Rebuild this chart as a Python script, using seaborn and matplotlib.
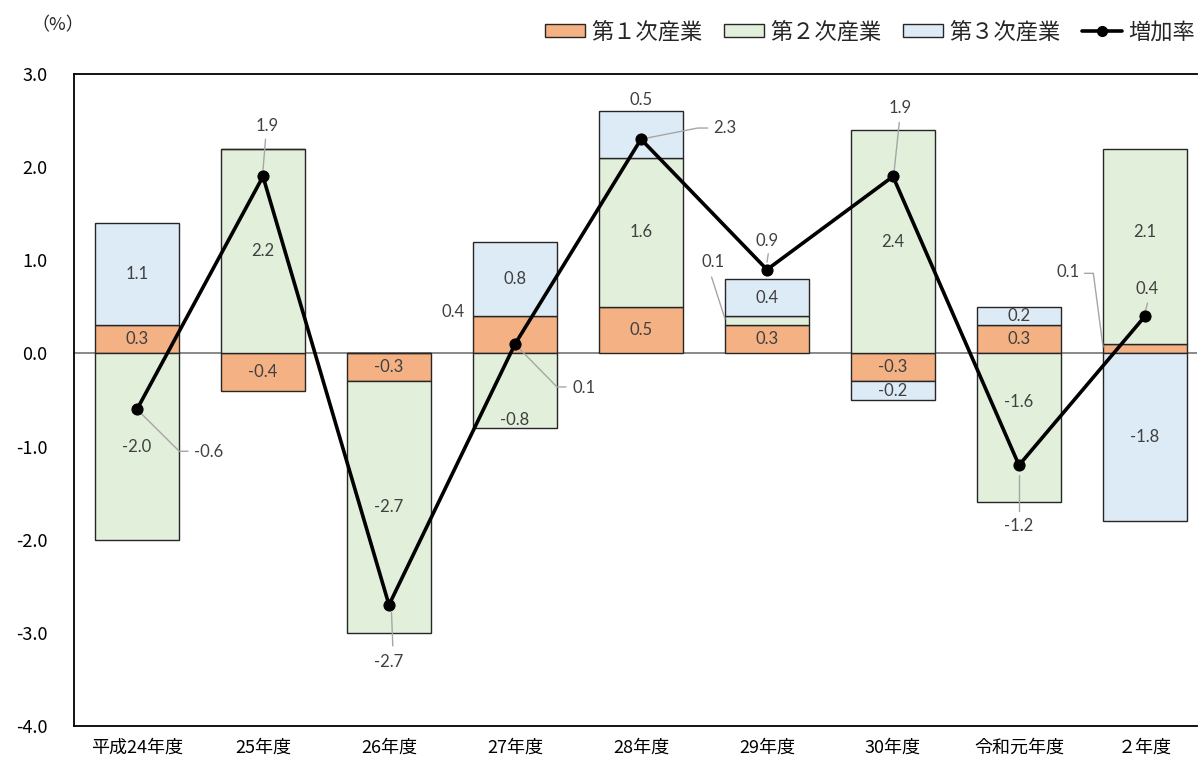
import numpy as np
import matplotlib
matplotlib.use("Agg")
import matplotlib.pyplot as plt
import seaborn as sns
from matplotlib.patches import Patch
from matplotlib.lines import Line2D

years = ["平成24年度", "25年度", "26年度", "27年度", "28年度", "29年度", "30年度", "令和元年度", "２年度"]
primary = [0.3, -0.4, -0.3, 0.4, 0.5, 0.3, -0.3, 0.3, 0.1]
secondary = [-2.0, 2.2, -2.7, -0.8, 1.6, 0.1, 2.4, -1.6, 2.1]
tertiary = [1.1, 0.0, 0.0, 0.8, 0.5, 0.4, -0.2, 0.2, -1.8]
growth = [-0.6, 1.9, -2.7, 0.1, 2.3, 0.9, 1.9, -1.2, 0.4]
series_names = ["第１次産業", "第２次産業", "第３次産業"]
line_name = "増加率"
y_ticks = [-4.0, -3.0, -2.0, -1.0, 0.0, 1.0, 2.0, 3.0]

sns.set_theme(style="white")
plt.rcParams["font.family"] = ["Noto Sans CJK JP", "DejaVu Sans"]

colors = ["#F4B183", "#E2EFDA", "#DDEBF7"]
edge = "#262626"
label_color = "#404040"
leader_color = "#A6A6A6"
label_font = ["Lato", "DejaVu Sans"]

fig = plt.figure(figsize=(11.98, 7.6), dpi=100)
ax = fig.add_axes([74 / 1198, 34 / 760, 1123 / 1198, 652 / 760])

ax.axhline(0, color="#808080", lw=1.3, zorder=0.5)

# stacked bars: positive and negative parts stack separately
vals = np.array([primary, secondary, tertiary])
pos_base = np.zeros(len(years))
neg_base = np.zeros(len(years))
centers = np.zeros_like(vals)
for i, v in enumerate(vals):
    bottom = np.where(v >= 0, pos_base, neg_base)
    sns.barplot(x=years, y=v, order=years, bottom=bottom, color=colors[i],
                edgecolor=edge, linewidth=1.0, width=0.667, saturation=1,
                errorbar=None, ax=ax, zorder=2)
    centers[i] = bottom + v / 2
    pos_base = np.where(v >= 0, pos_base + v, pos_base)
    neg_base = np.where(v < 0, neg_base + v, neg_base)

xs = np.arange(len(years))
sns.lineplot(x=xs, y=growth, color="black", lw=2.6, marker="o", markersize=8,
             markeredgecolor="black", ax=ax, zorder=4)

# segment labels (some moved off-centre as in the original)
moved = {(0, 3): (2.51, 0.44), (1, 3): (3.0, -0.72), (1, 7): (7.0, -0.52),
         (1, 8): (8.0, 1.30), (1, 5): (4.57, 0.98), (0, 8): (7.39, 0.87),
         (2, 4): (4.0, 2.72)}
seg_leaders = {(1, 5): [(4.56, 0.82), (4.667, 0.37)],
               (0, 8): [(7.52, 0.86), (7.59, 0.86), (7.667, 0.07)]}
for i in range(3):
    for j in range(len(years)):
        v = vals[i][j]
        if v == 0:
            continue
        x, y = moved.get((i, j), (j, centers[i][j]))
        ax.text(x, y, f"{v:.1f}", ha="center", va="center", fontsize=12,
                color=label_color, family=label_font, zorder=5)
        if (i, j) in seg_leaders:
            px, py = zip(*seg_leaders[(i, j)])
            ax.plot(px, py, color=leader_color, lw=1, zorder=3)

# growth labels: (text offset, leader offsets) relative to each point
g_text = [(0.45, -0.46, "left"), (0.03, 0.54, "center"), (0.0, -0.61, "center"),
          (0.46, -0.47, "left"), (0.57, 0.12, "left"), (0.0, 0.31, "center"),
          (0.06, 0.73, "center"), (0.0, -0.65, "center"), (0.02, 0.29, "center")]
g_lead = [[(0, 0), (0.335, -0.45), (0.405, -0.45)],
          [(0.02, 0.40), (0.0, 0.07)],
          [(0.02, -0.08), (0.03, -0.44)],
          [(0, 0), (0.333, -0.46), (0.405, -0.46)],
          [(0, 0), (0.45, 0.12), (0.53, 0.12)],
          [(0.01, 0.17), (0.0, 0.08)],
          [(0.05, 0.58), (0.01, 0.07)],
          [(0.0, -0.10), (0.0, -0.49)],
          [(0.02, 0.14), (0.0, 0.04)]]
for j, g in enumerate(growth):
    dx, dy, ha = g_text[j]
    ax.text(j + dx, g + dy, f"{g:.1f}", ha=ha, va="center", fontsize=12,
            color=label_color, family=label_font, zorder=5)
    px = [j + a for a, b in g_lead[j]]
    py = [g + b for a, b in g_lead[j]]
    ax.plot(px, py, color=leader_color, lw=1, zorder=3)

ax.set_xlim(-0.5, -0.5 + 1123 / 126)
ax.set_ylim(-4.0, 3.0)
ax.set_yticks(y_ticks)
ax.set_yticklabels([f"{t:.1f}" for t in y_ticks])
ax.set_xticks(xs)
ax.set_xticklabels(years)
ax.tick_params(axis="y", length=0, pad=19, labelsize=13, labelcolor="black")
ax.tick_params(axis="x", length=0, pad=9, labelsize=13, labelcolor="black")
ax.set_xlabel("")
ax.set_ylabel("")
for s in ["left", "top", "bottom"]:
    ax.spines[s].set_color("black")
    ax.spines[s].set_linewidth(1.3)
ax.spines["right"].set_visible(False)
if ax.get_legend():
    ax.get_legend().remove()

handles = [Patch(facecolor=c, edgecolor=edge, linewidth=1.0) for c in colors]
handles.append(Line2D([0], [0], color="black", lw=2.6, marker="o", markersize=7))
fig.legend(handles, series_names + [line_name], loc="center right",
           bbox_to_anchor=(1.014, 1 - 32 / 760), ncol=4, frameon=False,
           fontsize=16, handlelength=1.8, handleheight=0.5,
           handletextpad=0.25, columnspacing=1.0)

fig.text(58 / 1198, 1 - 25 / 760, "（%）", ha="center", va="center", fontsize=13)

fig.savefig("out.png", dpi=100)
